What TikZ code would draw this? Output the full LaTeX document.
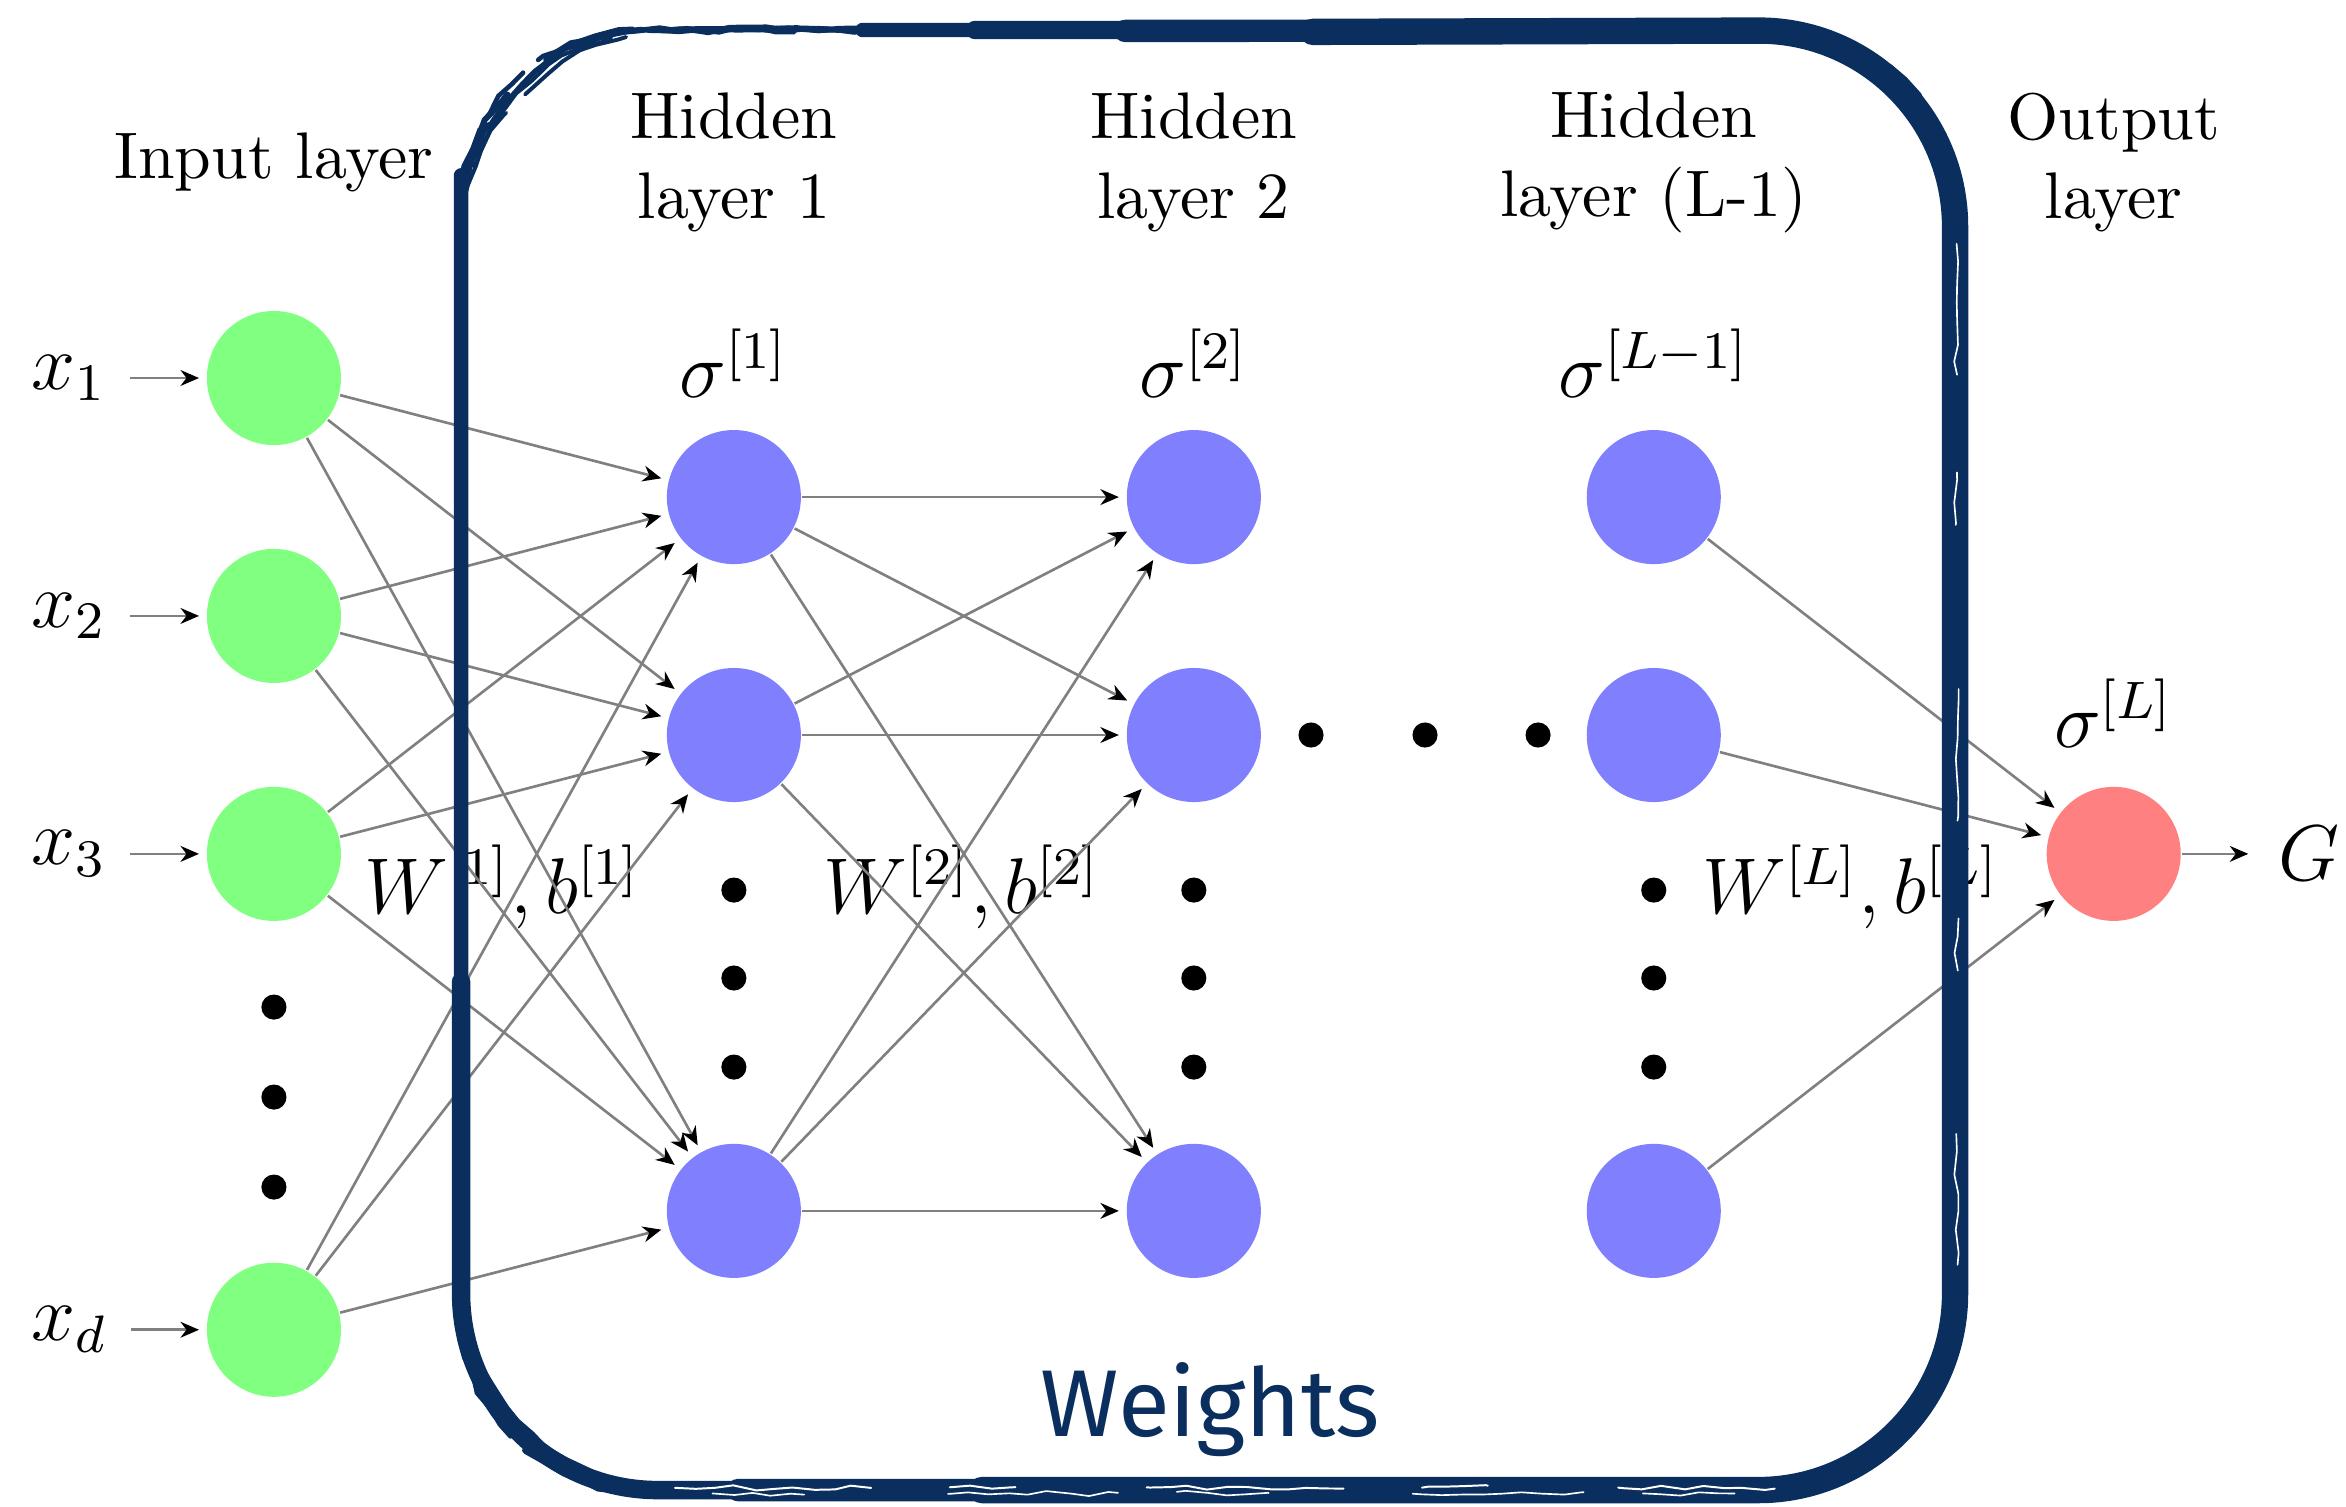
\documentclass[tikz,border=0pt]{standalone}
\usepackage{fontspec}
\newfontfamily\handfont{Fira Sans}
\usetikzlibrary{arrows.meta, decorations.pathmorphing}
\definecolor{navy}{HTML}{0A2F5E}

\begin{document}
\begin{tikzpicture}[
            > = {Stealth[color=black, length=2.8pt, width=2.4pt, inset=0.9pt]},
            shorten > = 1pt,
            node distance = 1.269cm,
            thin
        ]

        \tikzstyle{neuron}=[circle, inner sep=0pt, minimum size=7.15mm]
        \tikzstyle{input}=[neuron, fill=green!50]
        \tikzstyle{hidden}=[neuron, fill=blue!50]
        \tikzstyle{output}=[neuron, fill=red!50]
        \tikzstyle{title}=[align=center]
        \tikzstyle{sym}=[font=\large]
        \tikzstyle{every edge}=[draw=black!50]
        \tikzstyle{brush}=[
            draw = navy,
            line cap = round,
            line join = round,
            rounded corners = 1.05cm
        ]
        \tikzstyle{rough}=[
            draw = navy,
            line cap = round,
            line join = round,
            decorate,
            decoration = {random steps, segment length=3pt, amplitude=0.4pt}
        ]

        \useasboundingbox (0,0) rectangle (12.512,-8.037);
        \pgfmathsetseed{42}

        % layers
        \node[input] (i1) at (1.461,-2.016) {};
        \node[input] (i2) [below of=i1] {};
        \node[input] (i3) [below of=i2] {};
        \node[input] (id) [below of=i3, node distance=2.538cm] {};

        \node[hidden] (a1) at (3.914,-2.651) {};
        \node[hidden] (a2) [below of=a1] {};
        \node[hidden] (a3) [below of=a2, node distance=2.538cm] {};

        \node[hidden] (b1) at (6.367,-2.651) {};
        \node[hidden] (b2) [below of=b1] {};
        \node[hidden] (b3) [below of=b2, node distance=2.538cm] {};

        \node[hidden] (c1) at (8.820,-2.651) {};
        \node[hidden] (c2) [below of=c1] {};
        \node[hidden] (c3) [below of=c2, node distance=2.538cm] {};

        \node[output] (o) at (11.273,-4.554) {};

        % inputs and output
        \node[sym] (x1) [left of=i1, node distance=1.09cm] {$x_1$};
        \node[sym] (x2) [left of=i2, node distance=1.09cm] {$x_2$};
        \node[sym] (x3) [left of=i3, node distance=1.09cm] {$x_3$};
        \node[sym] (xd) [left of=id, node distance=1.09cm] {$x_d$};
        \node[sym] (g) [right of=o, node distance=1.04cm] {$G$};

        % titles
        \node[title] (t0) [above of=i1, node distance=1.15cm] {Input layer};
        \node[title] (t1) at (a1 |- t0) {Hidden\\layer 1};
        \node[title] (t2) at (b1 |- t0) {Hidden\\layer 2};
        \node[title] (t3) at (c1 |- t0) {Hidden\\layer (L-1)};
        \node[title] (t4) at (o |- t0) {Output\\layer};

        % activations
        \node[sym] (s1) [above of=a1, node distance=0.715cm] {$\sigma^{[1]}$};
        \node[sym] (s2) [above of=b1, node distance=0.715cm] {$\sigma^{[2]}$};
        \node[sym] (s3) [above of=c1, node distance=0.715cm] {$\sigma^{[L-1]}$};
        \node[sym] (sL) [above of=o, node distance=0.752cm] {$\sigma^{[L]}$};

        % parameters
        \node[sym] (w1) at (2.68,-4.73) {$W^{[1]}, b^{[1]}$};
        \node[sym] (w2) at (5.13,-4.73) {$W^{[2]}, b^{[2]}$};
        \node[sym] (wL) at (9.87,-4.73) {$W^{[L]}, b^{[L]}$};

        \path[->] (x1) edge (i1);
        \path[->] (x2) edge (i2);
        \path[->] (x3) edge (i3);
        \path[->] (xd) edge (id);

        \path[->] (i1) edge (a1);
        \path[->] (i1) edge (a2);
        \path[->] (i1) edge (a3);
        \path[->] (i2) edge (a1);
        \path[->] (i2) edge (a2);
        \path[->] (i2) edge (a3);
        \path[->] (i3) edge (a1);
        \path[->] (i3) edge (a2);
        \path[->] (i3) edge (a3);
        \path[->] (id) edge (a1);
        \path[->] (id) edge (a2);
        \path[->] (id) edge (a3);

        \path[->] (a1) edge (b1);
        \path[->] (a1) edge (b2);
        \path[->] (a1) edge (b3);
        \path[->] (a2) edge (b1);
        \path[->] (a2) edge (b2);
        \path[->] (a2) edge (b3);
        \path[->] (a3) edge (b1);
        \path[->] (a3) edge (b2);
        \path[->] (a3) edge (b3);

        \path[->] (c1) edge (o);
        \path[->] (c2) edge (o);
        \path[->] (c3) edge (o);
        \path[->] (o) edge (g);

        % dots
        \fill (1.461,-5.371) circle (0.067);
        \fill (1.461,-5.851) circle (0.067);
        \fill (1.461,-6.331) circle (0.067);
        \fill (3.914,-4.747) circle (0.067);
        \fill (3.914,-5.216) circle (0.067);
        \fill (3.914,-5.691) circle (0.067);
        \fill (6.367,-4.747) circle (0.067);
        \fill (6.367,-5.216) circle (0.067);
        \fill (6.367,-5.691) circle (0.067);
        \fill (8.820,-4.747) circle (0.067);
        \fill (8.820,-5.216) circle (0.067);
        \fill (8.820,-5.691) circle (0.067);
        \fill (6.992,-3.920) circle (0.067);
        \fill (7.600,-3.920) circle (0.067);
        \fill (8.203,-3.920) circle (0.067);

        % brushed frame
        \coordinate (nw) at (2.459,-0.16);
        \coordinate (ne) at (10.427,-0.16);
        \coordinate (se) at (10.427,-7.947);
        \coordinate (sw) at (2.459,-7.947);

        \draw[brush, line width=2.2pt] (4.6,-0.16) -- (ne) -- (se) -- (sw) -- (2.459,-0.9);
        \draw[brush, line width=2.8pt] (5.2,-0.16) -- (ne) -- (se) -- (sw) -- (2.459,-5.2);
        \draw[brush, line width=3.4pt] (6.0,-0.165) -- (ne) -- (se) -- (3.9,-7.947);
        \draw[brush, line width=4pt] (7.0,-0.17) -- (ne) -- (se) -- (5.2,-7.947);
        \draw[rough, line width=0.8pt, shift={(0.05,-0.03)}, dash pattern=on 40pt off 3pt on 12pt off 5pt]
            (nw) [rounded corners=1.05cm] -- (ne) -- (se) -- (sw) -- cycle [sharp corners];
        \draw[rough, line width=0.6pt, shift={(-0.06,0.01)}, dash pattern=on 25pt off 4pt on 30pt off 6pt]
            (nw) [rounded corners=1.1cm] -- (ne) -- (se) -- (sw) -- cycle [sharp corners];
        \draw[rough, line width=0.9pt, shift={(0.015,0.05)}, dash pattern=on 55pt off 8pt on 20pt off 3pt]
            (nw) [rounded corners=1cm] -- (ne) -- (se) -- (sw) -- cycle [sharp corners];
        \draw[rough, line width=0.5pt, shift={(-0.02,-0.06)}]
            (nw) [rounded corners=1.05cm] -- (ne) -- (se) -- (sw) -- cycle [sharp corners];
        \draw[rough, line width=0.6pt, shift={(0.07,0.02)}, dash pattern=on 18pt off 6pt on 35pt off 4pt]
            (nw) [rounded corners=1.15cm] -- (ne) -- (se) -- (sw) -- cycle [sharp corners];
        \draw[rough, line width=0.7pt, shift={(-0.04,-0.035)}, dash pattern=on 9pt off 3pt on 22pt off 2pt]
            (nw) [rounded corners=0.95cm] -- (ne) -- (se) -- (sw) -- cycle [sharp corners];
        \draw[rough, draw=white, line width=0.3pt, dash pattern=on 30pt off 12pt on 10pt off 20pt]
            (3.6,-7.935) -- (9.5,-7.935);
        \draw[rough, draw=white, line width=0.25pt, dash pattern=on 14pt off 22pt on 26pt off 9pt]
            (3.8,-7.965) -- (9.3,-7.965);
        \draw[rough, draw=white, line width=0.25pt, dash pattern=on 20pt off 15pt on 8pt off 25pt]
            (10.435,-1.3) -- (10.435,-6.8);

        \node[text=navy, font=\handfont\Large, anchor=base] (wt) at (6.455,-7.66) {Weights};
    \end{tikzpicture}
\end{document}
